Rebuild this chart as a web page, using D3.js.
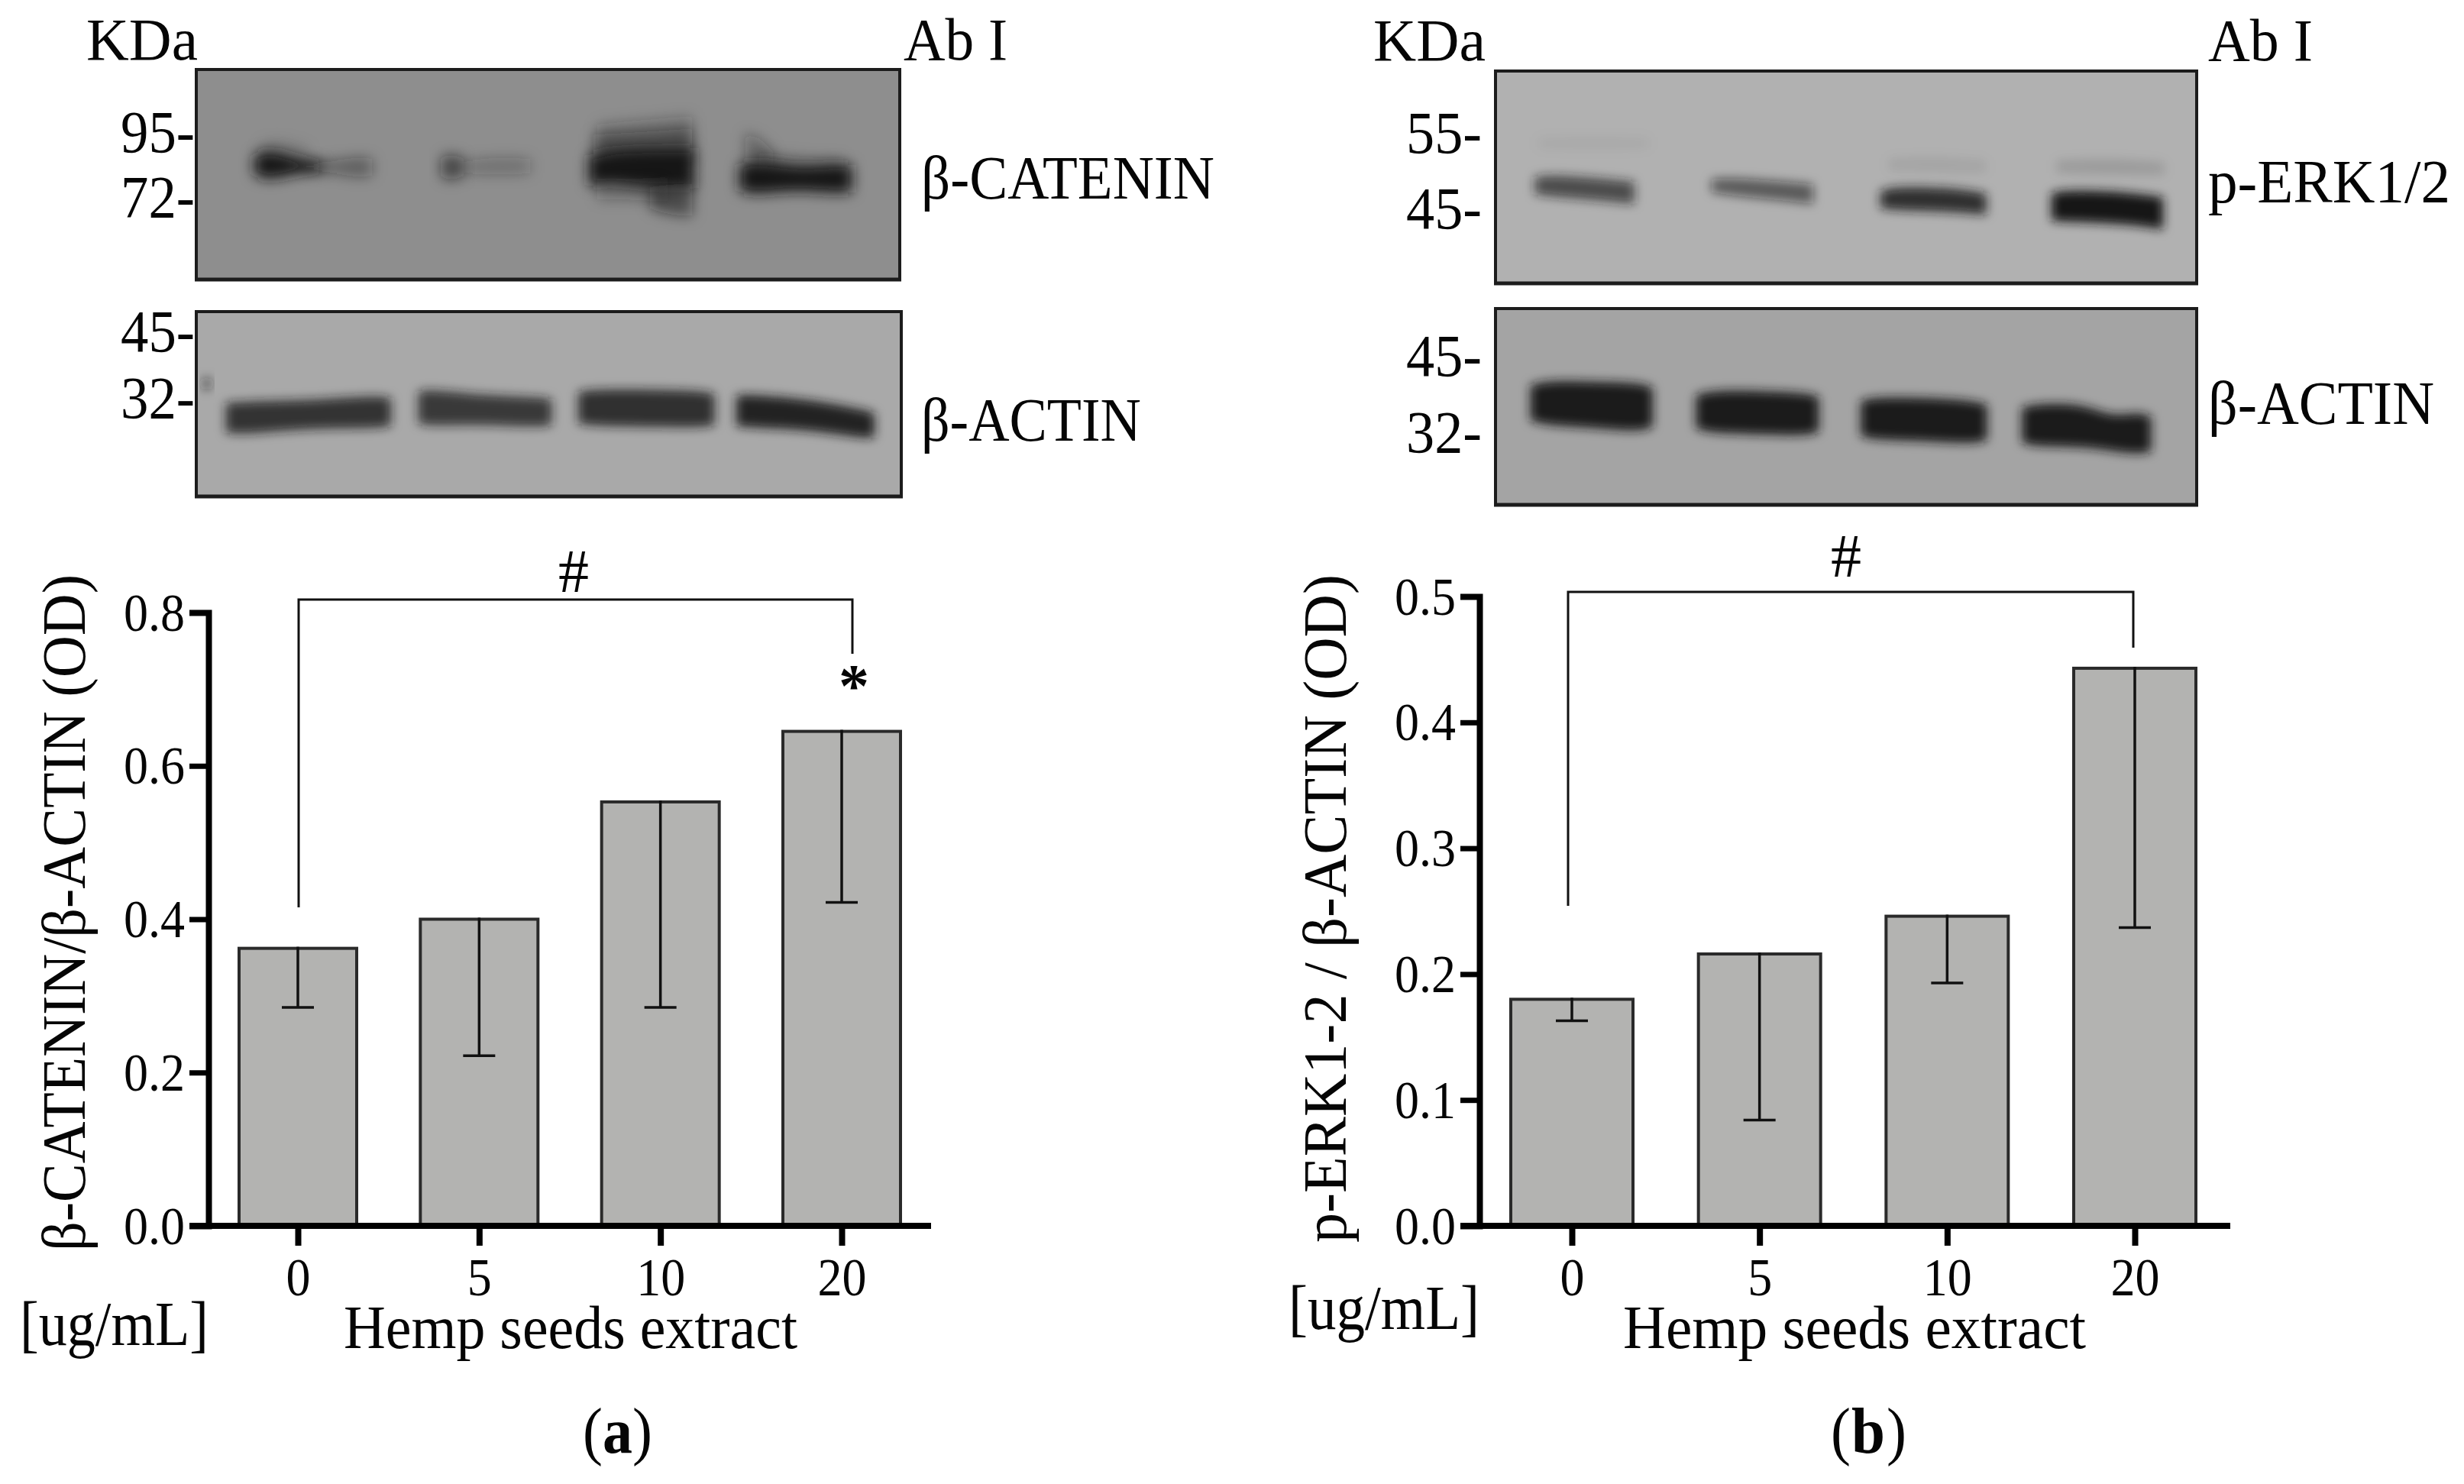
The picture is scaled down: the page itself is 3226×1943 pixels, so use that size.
<!DOCTYPE html>
<html>
<head>
<meta charset="utf-8">
<script src="https://cdn.jsdelivr.net/npm/d3@7"></script>
<style>
html,body{margin:0;padding:0;background:#fff}
svg{display:block}
text{font-family:"Liberation Serif","Times New Roman",serif;fill:#050505}
</style>
</head>
<body>
<svg id="fig" width="3226" height="1943"></svg>
<script>
// ---- data ----
const doses = ["0","5","10","20"];
const cateninMean = [0.362,0.400,0.553,0.645];
const cateninLow  = [0.285,0.222,0.285,0.422];
const erkMean = [0.180,0.216,0.246,0.443];
const erkLow  = [0.163,0.084,0.193,0.237];
const cateninTicks = [0,0.2,0.4,0.6,0.8];
const erkTicks = [0,0.1,0.2,0.3,0.4,0.5];

// blot bands: density, then outline samples [x %, y %, half thickness %] in gel coordinates
const catBlot = [
 {d:.15,p:[[9,38,3],[12,38,5],[16,40,3]]},
 {d:1,p:[[8.2,45.5,4],[9.5,45.5,7],[12,45.5,6],[15,46,3],[18,46.5,1.5]]},
 {d:.42,p:[[15,46,2],[20,46.5,3],[23,46.5,5],[25,46.5,4]]},
 {d:.6,p:[[34.8,46.5,4],[36,46.5,7],[38,46.5,4]]},
 {d:.28,p:[[38,46.5,3],[43,46,4.5],[47.5,46,3.5]]},
 {d:.25,p:[[57,32,6],[63,30,6],[70.5,29,7]]},
 {d:.45,p:[[56.5,38,7],[63,37,7],[70.5,36,8]]},
 {d:1,p:[[55.8,48,7],[57,48,7.5],[58.5,46,7.5],[64,47,9.5],[70.8,47,9.5]]},
 {d:.3,p:[[57,57,5],[62,57,5],[67,57,6]]},
 {d:.55,p:[[64.5,61,5],[67,62,7],[70.5,62,8]]},
 {d:.35,p:[[78,37,7],[80,39,7],[82,43,4]]},
 {d:.25,p:[[80,44,5],[86,46,4],[92,46,4]]},
 {d:1,p:[[77.2,51.5,6],[79,51.5,8],[82,51.5,7],[86,52,5.5],[90,52,7],[93.2,52,6.5]]}
];
const catActin = [
 {d:.75,p:[[1,39,2],[1.2,39,4],[2,39,2]]},
 {d:.82,p:[[4.2,57.5,8],[7,57.5,9],[15.5,55.7,7.5],[25.2,54.3,9],[27.6,54.3,7.5]]},
 {d:.78,p:[[31.5,51.9,8.5],[33,51.9,10],[40.8,53.2,7.8],[48.6,54.4,8.2],[50.4,54.4,7]]},
 {d:.84,p:[[54.2,52,8.5],[57,52,10],[65,52.3,10],[71,52.8,10],[73.5,53,8.5]]},
 {d:.92,p:[[76.6,53.7,8.2],[78.5,53.7,9],[86.9,55.7,8.2],[94.7,60.9,7.8],[96.2,61.5,6.5]]}
];
const erkBlot = [
 {d:.04,p:[[6,34,3],[14,34,4],[22,34,3]]},
 {d:.68,p:[[5.6,54,4],[8,54,5.2],[14,55.5,5.2],[19.8,57.4,5.2]]},
 {d:.56,p:[[30.8,54,3],[34,54.5,4.2],[41,56.5,4.4],[45.3,58,4.6]]},
 {d:.07,p:[[56,44,3],[63,44,4],[70,45,3]]},
 {d:.85,p:[[54.9,60.6,4],[57,60,5.6],[65,60.6,5.6],[70,62.7,5]]},
 {d:.12,p:[[80,45,3],[88,45,4],[95.4,46,3]]},
 {d:1,p:[[79.3,64,6.5],[82,63.5,7.5],[90,64.5,7.5],[95.2,67,7.5]]}
];
const erkActin = [
 {d:.97,p:[[5,48.1,9],[7.5,48.1,11.5],[14,49,11.7],[20.5,50.3,12.5],[22.4,50.3,10]]},
 {d:.97,p:[[28.6,52.6,8.5],[31,52.6,11],[38,53,11],[44,53.9,11],[46.1,53.9,9]]},
 {d:.97,p:[[52.1,56,9],[54.5,56,11],[62,56.5,11],[68,58,11],[70.1,58,9]]},
 {d:.97,p:[[75.1,59.4,9],[77.5,59.4,11],[83.9,59.4,11],[87.9,64,8.6],[91.5,63.4,10.8],[93.5,64,9]]}
];

// ---- drawing ----
const svg = d3.select("#fig");
const defs = svg.append("defs");
[["blurWide",9],["blurMid",7]].forEach(([id,s])=>{
  defs.append("filter").attr("id",id).attr("x","-50%").attr("y","-150%").attr("width","200%").attr("height","400%")
    .append("feGaussianBlur").attr("stdDeviation",s);
});

function label(text,x,y,size,width,opts={}){
  const t = svg.append("text").attr("x",x).attr("y",y).attr("font-size",size)
    .attr("textLength",width).attr("lengthAdjust","spacingAndGlyphs").text(text);
  if(opts.weight) t.attr("font-weight",opts.weight);
  return t;
}
function blot(bands,x0,x1,y0,y1,bg,clipId,blurId){
  const g = svg.append("g");
  defs.append("clipPath").attr("id",clipId).append("rect").attr("x",x0).attr("y",y0).attr("width",x1-x0).attr("height",y1-y0);
  g.append("rect").attr("x",x0).attr("y",y0).attr("width",x1-x0).attr("height",y1-y0).attr("fill",bg);
  const sx = d3.scaleLinear().domain([0,100]).range([x0,x1]);
  const sy = d3.scaleLinear().domain([0,100]).range([y0,y1]);
  const sh = d3.scaleLinear().domain([0,100]).range([0,y1-y0]);
  const area = d3.area().curve(d3.curveBasis)
    .x(d=>sx(d[0])).y0(d=>sy(d[1])-sh(d[2])).y1(d=>sy(d[1])+sh(d[2]));
  const inner = g.append("g").attr("clip-path",`url(#${clipId})`);
  inner.selectAll("path").data(bands).join("path")
    .attr("d",b=>{
      const first=b.p[0], last=b.p[b.p.length-1];
      return area([first,first,...b.p,last,last]);
    })
    .attr("fill","#181818").attr("fill-opacity",b=>b.d).attr("filter",`url(#${blurId})`);
  g.append("rect").attr("x",x0).attr("y",y0).attr("width",x1-x0).attr("height",y1-y0)
    .attr("fill","none").attr("stroke","#1c1c1c").attr("stroke-width",4);
  g.append("line").attr("x1",x0-2).attr("x2",x1+2).attr("y1",y1).attr("y2",y1).attr("stroke","#1c1c1c").attr("stroke-width",5);
}
function barChart(c){
  const x = d3.scalePoint().domain(doses).range(c.xr);
  const y = d3.scaleLinear().domain(c.yd).range(c.yr);
  const g = svg.append("g");
  const rows = doses.map((k,i)=>({k,m:c.mean[i],l:c.low[i]}));
  g.selectAll("rect.bar").data(rows).join("rect").attr("class","bar")
    .attr("x",d=>x(d.k)-c.bw/2).attr("width",c.bw)
    .attr("y",d=>y(d.m)).attr("height",d=>y(0)-y(d.m))
    .attr("fill","#b3b3b1").attr("stroke","#2a2a2a").attr("stroke-width",4);
  g.selectAll("line.err").data(rows).join("line").attr("class","err")
    .attr("x1",d=>x(d.k)).attr("x2",d=>x(d.k)).attr("y1",d=>y(d.m)-2).attr("y2",d=>y(d.l))
    .attr("stroke","#111").attr("stroke-width",3.5);
  g.selectAll("line.cap").data(rows).join("line").attr("class","cap")
    .attr("x1",d=>x(d.k)-21).attr("x2",d=>x(d.k)+21).attr("y1",d=>y(d.l)).attr("y2",d=>y(d.l))
    .attr("stroke","#111").attr("stroke-width",3.5);
  const ax = g.append("g").attr("transform",`translate(${c.axisX},0)`)
    .call(d3.axisLeft(y).tickValues(c.ticks).tickFormat(d3.format(".1f")).tickSize(25).tickPadding(6));
  ax.select(".domain").attr("stroke","#000").attr("stroke-width",8);
  ax.selectAll(".tick line").attr("stroke","#000").attr("stroke-width",7);
  ax.selectAll("text").attr("font-family","Liberation Serif").attr("font-size",70).attr("fill","#050505").attr("dy","0.33em")
    .attr("textLength",80).attr("lengthAdjust","spacingAndGlyphs");
  const bx = g.append("g").attr("transform",`translate(0,${y(0)})`)
    .call(d3.axisBottom(x).tickSize(26).tickPadding(15));
  bx.select(".domain").attr("d",`M${c.axisStart},0H${c.axisEnd}`).attr("stroke","#000").attr("stroke-width",8);
  bx.selectAll(".tick line").attr("stroke","#000").attr("stroke-width",8);
  bx.selectAll("text").attr("font-family","Liberation Serif").attr("font-size",70).attr("fill","#050505")
    .attr("textLength",d=>d.length*32).attr("lengthAdjust","spacingAndGlyphs");
  const b = c.br;
  g.append("path").attr("d",d3.line()([[b[0],b[2]],[b[0],b[3]],[b[1],b[3]],[b[1],b[4]]]))
    .attr("fill","none").attr("stroke","#111").attr("stroke-width",3);
  svg.append("text").attr("font-size",80)
    .attr("transform",`translate(${c.titleX},${c.titleY}) rotate(-90)`)
    .attr("textLength",c.titleLen).attr("lengthAdjust","spacingAndGlyphs").text(c.title);
}

// panel (a)
label("KDa",113,78,78,146);
label("Ab I",1183,78,78,136);
blot(catBlot,257,1178,91,366,"#8e8e8e","c1","blurWide");
blot(catActin,257,1180,408,650,"#a9a9a9","c2","blurMid");
label("95-",158,199,78,97);
label("72-",158,284,78,97);
label("45-",158,460,78,97);
label("32-",158,547,78,97);
label("β-CATENIN",1206,260,80,384);
label("β-ACTIN",1206,577,80,288);
barChart({xr:[390,1102],bw:154,yd:[0,0.8],yr:[1605,802],mean:cateninMean,low:cateninLow,ticks:cateninTicks,
  axisX:273,axisStart:248,axisEnd:1219,br:[391,1116,1188,785,856],
  title:"β-CATENIN/β-ACTIN (OD)",titleX:111,titleY:1638,titleLen:886});
label("#",731,775,80,40);
label("*",1098,925,80,40,{weight:"bold"});
label("[ug/mL]",26,1761,82,247);
label("Hemp seeds extract",450,1765,80,594);
label("(",763,1902,84,26);
label("a",789,1902,84,39,{weight:"bold"});
label(")",828,1902,84,26);

// panel (b)
label("KDa",1798,79,78,147);
label("Ab I",2891,79,78,137);
blot(erkBlot,1958,2876,93,371,"#b1b1b1","c3","blurMid");
blot(erkActin,1958,2876,404,661,"#a4a4a4","c4","blurMid");
label("55-",1841,200,78,99);
label("45-",1841,299,78,99);
label("45-",1841,492,78,99);
label("32-",1841,592,78,99);
label("p-ERK1/2",2891,265,80,317);
label("β-ACTIN",2891,555,80,296);
barChart({xr:[2058,2795],bw:160,yd:[0,0.5],yr:[1605,781],mean:erkMean,low:erkLow,ticks:erkTicks,
  axisX:1937,axisStart:1912,axisEnd:2920,br:[2053,2793,1186,775,848],
  title:"p-ERK1-2 / β-ACTIN (OD)",titleX:1762,titleY:1627,titleLen:875});
label("#",2397,755,80,40);
label("[ug/mL]",1687,1740,82,250);
label("Hemp seeds extract",2125,1765,80,606);
label("(",2397,1902,84,26);
label("b",2424,1902,84,44,{weight:"bold"});
label(")",2470,1902,84,26);
</script>
</body>
</html>
